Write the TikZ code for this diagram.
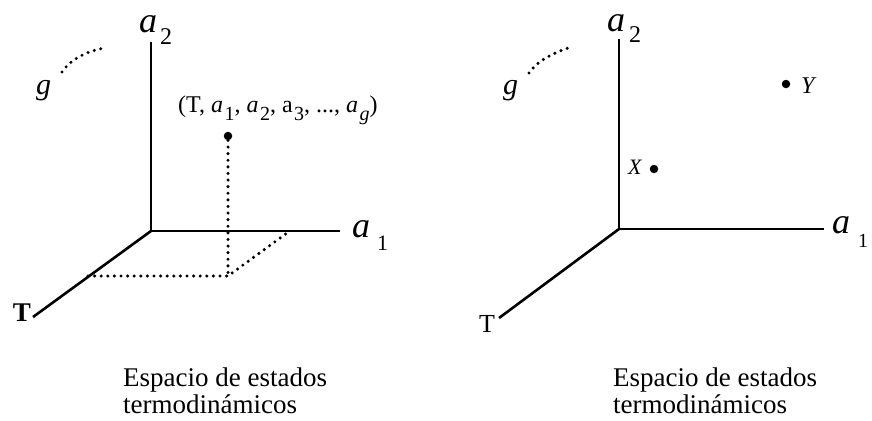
\documentclass[tikz,border=0pt]{standalone}
\usepackage{fontspec}
\setmainfont{Liberation Serif}
\newcommand{\fs}[1]{\fontsize{#1}{#1}\selectfont}
\newcommand{\mysub}[1]{\kern1.5pt\raisebox{-8pt}{\fs{20}#1}}
\tikzset{
  axis/.style={line width=2.6pt},
  dots/.style={line width=3.4pt, line cap=round, dash pattern=on 0pt off 6.6pt},
  pt/.style={circle, fill=black, inner sep=0pt, minimum size=8.5pt},
  lbl/.style={inner sep=0pt},
}
\begin{document}
\begin{tikzpicture}[x=1pt,y=-1pt]
\useasboundingbox (0,0) rectangle (872,420);
% ---------- left panel ----------
\coordinate (LO) at (151,231);
\coordinate (LA2) at (151,42);
\coordinate (LA1) at (340,231);
\coordinate (LT) at (33,317);
\draw[axis] (LA2) -- (LO) -- (LA1);
\draw[axis] (LO) -- (LT);
\node[lbl, anchor=base west] (la2a) at (139,33) {\fs{36}\itshape a};
\node[lbl, anchor=base west] (la2s) at (160,45) {\fs{24}2};
\node[lbl, anchor=base west] (la1a) at (352,237) {\fs{36}\itshape a};
\node[lbl, anchor=base west] (la1s) at (377,250) {\fs{22}1};
\node[lbl, anchor=base] (lT) at (22,321) {\fs{27}\bfseries T};
\node[lbl, anchor=base west] (lg) at (36,94) {\fs{30}\itshape g};
\coordinate (lgs) at (62,72);
\coordinate (lge) at (105,48);
\draw[dots] (lgs) .. controls (70,60) and (86,51) .. (lge);
\node[pt] (P) at (228,136) {};
\coordinate (Pb) at (228,276);
\coordinate (PT) at (88,276);
\coordinate (PA) at (287,233);
\draw[dots] (P) -- (Pb);
\draw[dots] (PT) -- (Pb) -- (PA);
\node[lbl, anchor=base west] (tup) at (178,112) {\fs{24}(T, \textit{a}\mysub{1}, \textit{a}\mysub{2}, a\mysub{3}, ..., \textit{a}\mysub{\textit{g}})};
\node[lbl, anchor=base west] (lc1) at (123,386) {\fs{27}Espacio de estados};
\node[lbl, anchor=base west] (lc2) at (123,413) {\fs{27}termodinámicos};
% ---------- right panel ----------
\coordinate (RO) at (619,229);
\coordinate (RA2) at (619,39);
\coordinate (RA1) at (824,229);
\coordinate (RT) at (499,318);
\draw[axis] (RA2) -- (RO) -- (RA1);
\draw[axis] (RO) -- (RT);
\node[lbl, anchor=base west] (ra2a) at (607,32) {\fs{36}\itshape a};
\node[lbl, anchor=base west] (ra2s) at (629,43) {\fs{24}2};
\node[lbl, anchor=base west] (ra1a) at (832,233) {\fs{36}\itshape a};
\node[lbl, anchor=base west] (ra1s) at (858,247) {\fs{20}1};
\node[lbl, anchor=base] (rT) at (487,332) {\fs{26}T};
\node[lbl, anchor=base west] (rg) at (503,94) {\fs{30}\itshape g};
\coordinate (rgs) at (529,73);
\coordinate (rge) at (571,47);
\draw[dots] (rgs) .. controls (537,61) and (553,53) .. (rge);
\node[pt] (X) at (654,169) {};
\node[lbl, anchor=base west] (Xl) at (628,174) {\fs{22}\itshape X};
\node[pt] (Y) at (786,84) {};
\node[lbl, anchor=base west] (Yl) at (801,93) {\fs{24}\itshape Y};
\node[lbl, anchor=base west] (rc1) at (613,386) {\fs{27}Espacio de estados};
\node[lbl, anchor=base west] (rc2) at (613,413) {\fs{27}termodinámicos};
\end{tikzpicture}
\end{document}
